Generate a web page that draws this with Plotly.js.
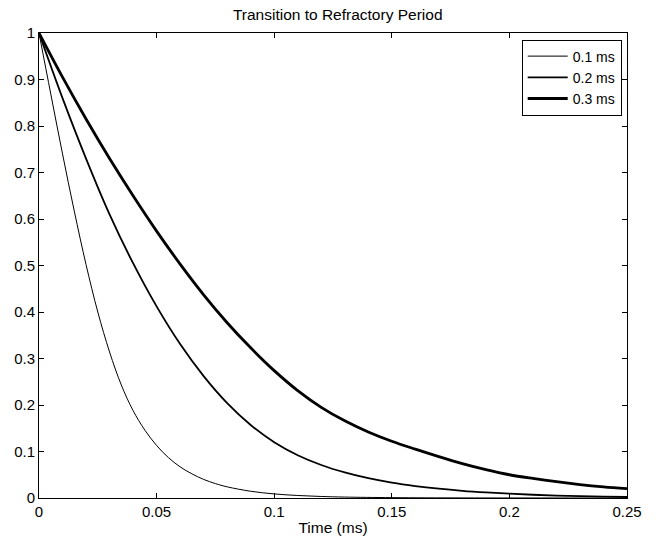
<!DOCTYPE html>
<html>
<head>
<meta charset="utf-8">
<script src="https://cdn.plot.ly/plotly-3.0.1.min.js"></script>
<style>html,body{margin:0;padding:0;background:#fff;}#plot{width:656px;height:537px;}</style>
</head>
<body>
<div id="plot"></div>
<script>
// Series values
const t01 = [0, 0.005, 0.010, 0.015, 0.020, 0.025, 0.030, 0.035, 0.040, 0.045, 0.050, 0.055, 0.060, 0.065, 0.070, 0.075, 0.080, 0.090, 0.100, 0.110, 0.120, 0.130, 0.150, 0.180, 0.200, 0.250];
const y01 = [1.0, 0.869, 0.74, 0.617, 0.502, 0.40, 0.314, 0.243, 0.188, 0.146, 0.113, 0.087, 0.067, 0.052, 0.040, 0.031, 0.024, 0.0145, 0.0088, 0.0054, 0.0033, 0.002, 0.0008, 0.0002, 0.0001, 0.0];

const t02 = [0, 0.010, 0.020, 0.030, 0.040, 0.050, 0.060, 0.070, 0.080, 0.090, 0.100, 0.110, 0.120, 0.130, 0.140, 0.150, 0.160, 0.170, 0.180, 0.190, 0.200, 0.210, 0.220, 0.230, 0.240, 0.250];
const y02 = [1.0, 0.86, 0.73, 0.61, 0.505, 0.412, 0.331, 0.262, 0.204, 0.157, 0.12, 0.092, 0.071, 0.055, 0.0425, 0.033, 0.0257, 0.02, 0.0155, 0.012, 0.0092, 0.007, 0.0053, 0.004, 0.003, 0.0022];

const t03 = [0, 0.010, 0.020, 0.030, 0.040, 0.050, 0.060, 0.070, 0.080, 0.090, 0.100, 0.110, 0.120, 0.130, 0.140, 0.150, 0.160, 0.170, 0.180, 0.190, 0.200, 0.210, 0.220, 0.230, 0.240, 0.250];
const y03 = [1.0, 0.905, 0.815, 0.73, 0.65, 0.574, 0.503, 0.437, 0.377, 0.323, 0.274, 0.231, 0.195, 0.166, 0.142, 0.122, 0.105, 0.089, 0.074, 0.061, 0.05, 0.042, 0.035, 0.029, 0.024, 0.020];

const seriesNames = ['0.1 ms', '0.2 ms', '0.3 ms'];
const xTickVals = [0, 0.05, 0.1, 0.15, 0.2, 0.25];
const xTickText = ['0', '0.05', '0.1', '0.15', '0.2', '0.25'];
const yTickVals = [0, 0.1, 0.2, 0.3, 0.4, 0.5, 0.6, 0.7, 0.8, 0.9, 1];
const yTickText = ['0', '0.1', '0.2', '0.3', '0.4', '0.5', '0.6', '0.7', '0.8', '0.9', '1'];

const widths = [1, 1.8, 2.8];
const xs = [t01, t02, t03];
const ys = [y01, y02, y03];

const traces = xs.map((x, i) => ({
  x: x, y: ys[i], name: seriesNames[i], type: 'scatter', mode: 'lines',
  line: {color: '#000', width: widths[i], shape: 'spline', smoothing: 1}
}));

const font = 'Liberation Sans, Arial, Helvetica, sans-serif';
const layout = {
  width: 656, height: 537,
  margin: {l: 39, r: 28.5, t: 33, b: 39, pad: 0},
  paper_bgcolor: '#fff', plot_bgcolor: '#fff',
  font: {family: font, size: 15, color: '#000'},
  title: {text: 'Transition to Refractory Period', font: {family: font, size: 15.5, color: '#000'},
          x: 0.508, xref: 'paper', y: 0.973, yref: 'container', yanchor: 'middle'},
  showlegend: true,
  legend: {x: 0.991, y: 0.986, xanchor: 'right', yanchor: 'top', bgcolor: '#fff',
           bordercolor: '#000', borderwidth: 1, font: {family: font, size: 14, color: '#000'},
           itemwidth: 40, tracegroupgap: 0},
  xaxis: {range: [0, 0.25], tickvals: xTickVals, ticktext: xTickText, ticks: 'inside', ticklen: 5,
          tickcolor: '#000', showline: true, linecolor: '#000', linewidth: 1, mirror: 'ticks',
          showgrid: false, zeroline: false, tickfont: {size: 15},
          title: {text: 'Time (ms)', font: {size: 15.5}, standoff: 3}},
  yaxis: {range: [0, 1], tickvals: yTickVals, ticktext: yTickText, ticks: 'inside', ticklen: 5,
          tickcolor: '#000', showline: true, linecolor: '#000', linewidth: 1, mirror: 'ticks',
          showgrid: false, zeroline: false, tickfont: {size: 15}}
};

Plotly.newPlot('plot', traces, layout, {displayModeBar: false, staticPlot: true});
</script>
</body>
</html>
